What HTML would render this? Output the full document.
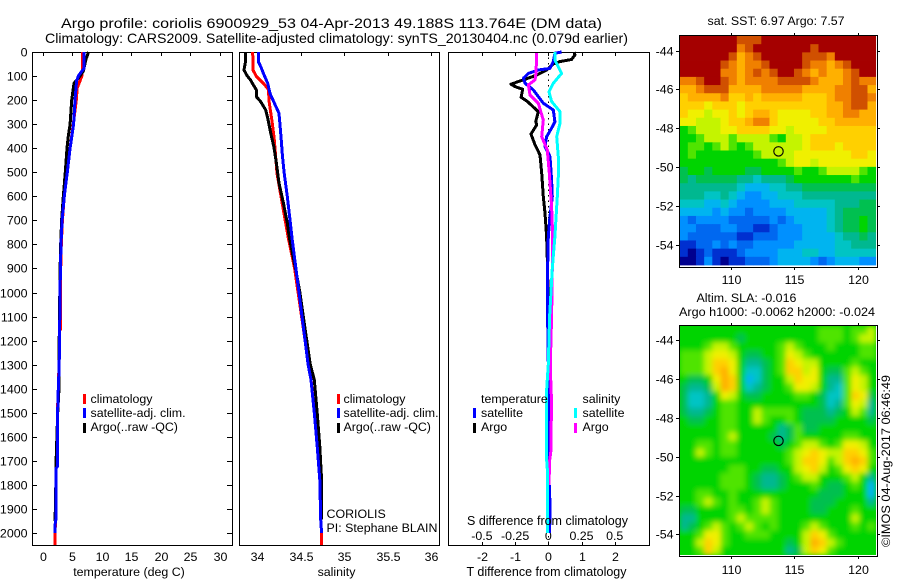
<!DOCTYPE html>
<html>
<head>
<meta charset="utf-8">
<title>Argo profile chart</title>
<style>
html,body{margin:0;padding:0;background:#fff;}
svg{display:block;}
text{font-family:"Liberation Sans",sans-serif;font-size:12.4px;fill:#000;}
</style>
</head>
<body>
<svg id="chart" xmlns="http://www.w3.org/2000/svg" width="900" height="580" viewBox="0 0 900 580">
  <defs>
    <clipPath id="clip-sla"><rect x="680" y="326" width="196" height="229"/></clipPath>
    <filter id="soft" x="-5%" y="-5%" width="110%" height="110%"><feGaussianBlur stdDeviation="2.6"/></filter>
  </defs>
  <g id="maps"></g>
  <g id="axes"></g>
  <g id="series"></g>

  <text x="61" y="28" style="font-size:14px" textLength="541" lengthAdjust="spacingAndGlyphs">Argo profile: coriolis 6900929_53 04-Apr-2013 49.188S 113.764E (DM data)</text>
  <text x="45" y="43" style="font-size:14px" textLength="583" lengthAdjust="spacingAndGlyphs">Climatology: CARS2009. Satellite-adjusted climatology: synTS_20130404.nc (0.079d earlier)</text>

  <text x="129" y="576" text-anchor="middle">temperature (deg C)</text>
  <text x="336.5" y="576" text-anchor="middle">salinity</text>
  <text x="546.5" y="576" text-anchor="middle" style="font-size:12.5px">T difference from climatology</text>
  <text x="547.5" y="525" text-anchor="middle" style="font-size:12.5px">S difference from climatology</text>

  <g>
    <rect x="83" y="394" width="3" height="10" fill="#f00"/>
    <rect x="83" y="408" width="3" height="10" fill="#00f"/>
    <rect x="83" y="423" width="3" height="10" fill="#000"/>
    <text x="90.5" y="403">climatology</text>
    <text x="90.5" y="417">satellite-adj. clim.</text>
    <text x="90.5" y="431">Argo(..raw -QC)</text>
  </g>
  <g>
    <rect x="337" y="394" width="3" height="10" fill="#f00"/>
    <rect x="337" y="408" width="3" height="10" fill="#00f"/>
    <rect x="337" y="423" width="3" height="10" fill="#000"/>
    <text x="343.5" y="403">climatology</text>
    <text x="343.5" y="417">satellite-adj. clim.</text>
    <text x="343.5" y="431">Argo(..raw -QC)</text>
  </g>
  <g>
    <text x="481" y="403">temperature</text>
    <text x="582.5" y="403">salinity</text>
    <rect x="473" y="408" width="3" height="10" fill="#00f"/>
    <rect x="473" y="423" width="3" height="10" fill="#000"/>
    <rect x="574" y="408" width="3" height="10" fill="#0ff"/>
    <rect x="574" y="423" width="3" height="10" fill="#f0f"/>
    <text x="481" y="417">satellite</text>
    <text x="481" y="431">Argo</text>
    <text x="582.5" y="417">satellite</text>
    <text x="582.5" y="431">Argo</text>
  </g>

  <text x="326.5" y="518">CORIOLIS</text>
  <text x="326.5" y="532">PI: Stephane BLAIN</text>

  <text x="707.5" y="25">sat. SST: 6.97 Argo: 7.57</text>
  <text x="696.5" y="302">Altim. SLA: -0.016</text>
  <text x="679" y="316" textLength="196" lengthAdjust="spacingAndGlyphs">Argo h1000: -0.0062 h2000: -0.024</text>
  <text transform="translate(890 547) rotate(-90)" textLength="172" lengthAdjust="spacingAndGlyphs">©IMOS 04-Aug-2017 06:46:49</text>
</svg>

<script>
// ---------- depth axis ----------
const depthTicks = [0,100,200,300,400,500,600,700,800,900,1000,1100,1200,1300,1400,1500,1600,1700,1800,1900,2000];

// ---------- temperature panel ----------
const tempTicks = [0,5,10,15,20,25,30];
const tempClimDepth = [0,60,100,150,200,300,400,500,600,700,800,900,1000,1150,1160,1300,1400,1500,1725,1730,1944,2000,2050];
const tempClimValue = [6.74,6.74,6.6,5.8,5.66,5.15,4.6,4.12,3.62,3.3,3.1,3.0,2.95,3.0,2.8,2.72,2.6,2.45,2.42,2.22,2.12,2.06,2.06];
const tempArgoDepth = [0,30,80,100,130,150,200,300,350,400,500,600,700,800,900,1000,1200,1400,1500,1700,1750,1900,1950];
const tempArgoValue = [7.75,7.3,6.85,6.3,5.26,5.15,4.87,4.6,4.3,4.08,3.79,3.45,3.15,3.0,2.9,2.85,2.75,2.72,2.5,2.22,2.2,2.1,2.0];
const tempSatDepth = [0,50,67,80,100,120,200,300,400,500,600,700,800,900,1000,1100,1200,1300,1400,1500,1600,1725,1730,1944,1950,2000];
const tempSatValue = [7.0,7.0,7.0,6.6,6.0,5.7,5.43,5.2,4.6,4.12,3.62,3.25,3.05,2.95,2.9,2.85,2.8,2.75,2.6,2.48,2.45,2.42,2.22,2.2,2.08,2.06];

// ---------- salinity panel ----------
const salTicks = [34,34.5,35,35.5,36];
const salClimDepth = [0,75,102,130,155,212,296,365,504,601,698,773,900,1000,1100,1200,1300,1363,1500,1640,1780,1944,2000,2050];
const salClimValue = [33.947,33.95,33.99,34.07,34.127,34.138,34.173,34.196,34.227,34.273,34.32,34.357,34.43,34.47,34.51,34.55,34.585,34.62,34.656,34.69,34.72,34.73,34.74,34.74];
const salArgoDepth = [0,45,75,96,116,158,186,207,241,275,337,393,462,545,628,711,773,900,1000,1100,1200,1300,1363,1500,1640,1780,1944];
const salArgoValue = [33.862,33.862,33.847,33.878,33.92,33.99,33.99,34.04,34.097,34.12,34.154,34.19,34.22,34.25,34.3,34.345,34.37,34.44,34.49,34.53,34.57,34.61,34.656,34.69,34.72,34.74,34.74];
const salSatDepth = [0,40,61,89,130,172,212,255,352,435,504,601,698,773,900,1000,1100,1200,1300,1363,1500,1640,1780,1944,2000];
const salSatValue = [34.012,34.012,34.04,34.07,34.12,34.146,34.196,34.25,34.273,34.29,34.31,34.345,34.377,34.4,34.445,34.48,34.515,34.55,34.585,34.618,34.656,34.69,34.72,34.73,34.74];

// ---------- difference panel ----------
const dTempTicks = [-2,-1,0,1,2];
const dSalTicks = [-0.5,-0.25,0,0.25,0.5];
const dTempArgoDepth = [0,12,31,40,50,75,96,116,134,144,155,188,206,248,290,303,341,386,428,504,601,670,767,900,1100,1300,1500,1700,1950];
const dTempArgoValue = [0.78,0.8,0.7,0.35,0.15,-0.05,-0.35,-0.75,-1.13,-1.0,-0.77,-0.82,-0.63,-0.3,-0.38,-0.35,-0.52,-0.4,-0.25,-0.2,-0.15,-0.1,-0.05,-0.02,0,0,0,0,0];
const dTempSatDepth = [0,5,40,68,75,89,109,130,158,213,241,290,317,352,393,435,533,601,684,767,900,1100,1300,1500,1700,1880,1950,2000];
const dTempSatValue = [0.4,0.2,0.15,0.05,-0.3,-0.6,-0.75,-0.7,-0.45,-0.15,0.15,0.2,0.1,-0.05,-0.1,0.05,0.1,0.12,0.05,0,-0.02,-0.02,0,0,0,0.05,0.05,0.03];
const dSalSatDepth = [0,33,89,130,165,206,248,296,352,435,518,601,767,900,1100,1300,1400,1700,1750,2000];
const dSalSatValue = [0.05,0.05,0.1,0.038,0.005,0.025,0.088,0.088,0.063,0.075,0.075,0.068,0.05,0.03,0.01,0,-0.012,-0.012,-0.005,-0.005];
const dSalArgoDepth = [5,89,116,137,179,213,283,352,407,504,643,767,900,1100,1300,1400,1450,1600,1650,1700,1800];
const dSalArgoValue = [-0.0875,-0.0925,-0.1,-0.15,-0.1375,-0.075,-0.0375,-0.05,-0.0075,0.0078,0.025,0.033,0.03,0.025,0.015,0.02,0.025,0.02,0.022,0.01,0.005];

// ---------- maps ----------
const mapLonTicks = [110,115,120];
const mapLatTicks = [-44,-46,-48,-50,-52,-54];
const argoLon = 113.764;
const argoLat = -49.188;
const sstLevels = [
[16,16,16,16,16,16,16,15,15,15,16,16,16,16,16,16,16,16,16,16,16,16,16,16],
[16,16,16,16,16,16,16,14,15,16,16,16,16,16,16,16,15,16,16,16,16,16,16,16],
[16,16,16,16,16,16,15,13,14,15,16,16,16,16,16,15,15,15,14,16,16,16,16,16],
[16,16,16,16,16,15,14,13,14,14,15,16,16,16,16,15,14,14,13,14,15,16,16,16],
[16,16,16,16,16,14,14,13,14,15,14,15,16,16,15,14,13,14,13,13,14,15,16,16],
[14,14,15,16,16,15,14,13,14,14,14,14,15,15,15,15,14,13,13,13,14,15,14,14],
[13,13,14,15,15,15,13,13,13,13,14,14,14,14,14,13,13,13,13,14,14,15,15,13],
[12,13,13,13,13,14,12,12,13,12,13,13,13,13,13,12,12,12,13,14,14,15,15,14],
[12,12,12,11,12,12,12,11,12,12,12,12,12,12,12,12,12,12,13,13,14,15,15,13],
[12,11,11,10,11,11,12,11,12,13,13,12,11,11,11,11,12,12,13,13,14,14,13,13],
[11,11,10,10,10,11,12,12,13,14,14,12,11,11,11,11,11,12,12,13,13,13,13,13],
[8,9,10,10,10,11,11,12,12,12,12,11,11,10,11,11,11,11,12,12,12,12,12,12],
[8,8,9,10,10,10,9,10,10,10,10,9,8,10,10,11,12,12,12,12,12,12,12,12],
[8,9,9,8,9,10,9,8,9,10,10,10,10,10,10,11,12,12,12,11,12,12,12,12],
[8,9,8,8,8,8,8,8,8,9,10,10,10,10,11,11,11,11,11,11,11,12,12,11],
[8,8,8,8,8,8,8,8,8,8,8,8,9,10,11,11,10,11,11,11,11,11,11,11],
[7,8,8,7,8,8,8,8,7,7,8,8,8,8,9,8,8,9,10,10,10,10,9,8],
[7,6,7,7,7,7,7,6,6,5,6,6,6,7,8,8,8,8,8,8,8,9,8,8],
[6,6,6,6,6,6,6,5,4,4,4,5,5,6,6,7,7,7,7,7,7,7,7,7],
[6,6,6,5,5,6,5,4,3,3,4,4,5,5,5,6,6,6,6,6,6,6,6,6],
[5,5,5,4,4,5,4,3,3,3,3,4,4,4,5,5,5,5,5,6,6,6,7,7],
[4,4,4,4,3,4,3,3,2,3,3,3,3,4,4,4,4,4,5,6,7,7,7,7],
[3,2,3,3,3,3,2,2,2,2,2,3,2,3,4,4,4,4,5,6,7,7,8,7],
[3,3,2,2,2,3,3,2,2,1,1,2,3,3,3,4,4,4,5,6,7,7,8,7],
[3,2,2,2,2,2,2,1,1,2,2,2,3,3,3,4,4,4,4,5,6,6,7,6],
[1,1,2,2,3,2,3,2,2,3,3,3,3,3,4,4,4,4,4,5,5,6,6,6],
[1,0,1,2,1,1,1,2,3,3,3,3,4,4,4,5,5,4,4,5,5,5,5,5],
[0,0,1,3,1,0,1,1,2,2,2,3,4,4,4,4,3,2,3,4,4,4,3,3]
];
const slaLevels = [
[8,8,8,8,8,8,8,8,8,8,8,8,8,8,8,8,8,9,9,9,8,9,9,10],
[8,8,8,8,8,8,8,7,8,8,8,8,8,8,8,8,8,9,9,9,8,9,10,10],
[8,8,8,9,10,10,9,8,8,8,8,8,9,10,9,8,8,8,9,8,8,8,9,9],
[9,9,9,10,11,11,10,8,7,7,8,8,9,11,10,9,8,8,8,8,8,8,9,9],
[9,9,9,10,12,12,11,8,6,6,7,8,9,12,11,10,10,8,8,8,8,9,8,8],
[9,9,9,10,12,13,11,8,5,5,7,8,9,12,12,10,11,8,7,7,9,10,9,8],
[8,7,7,8,11,13,12,8,4,5,7,8,8,10,12,11,11,8,6,6,9,11,10,8],
[7,6,6,7,10,13,12,8,5,6,7,8,8,9,11,11,10,8,6,5,9,11,10,8],
[7,5,5,6,8,11,10,8,7,7,8,8,8,8,9,9,8,7,5,5,9,12,11,7],
[7,5,5,6,8,9,9,8,8,8,8,8,8,8,8,8,8,7,5,6,9,11,10,6],
[7,6,6,7,8,9,9,8,8,10,9,9,9,9,8,7,7,7,6,7,8,10,9,6],
[8,7,7,8,8,9,9,8,8,10,9,8,8,9,8,7,7,7,7,8,8,8,8,7],
[8,8,8,8,8,9,9,8,8,8,8,8,6,7,9,7,7,8,8,8,8,8,8,8],
[8,8,8,8,8,9,10,8,8,8,8,7,6,7,9,8,8,8,8,8,9,9,8,8],
[8,8,9,9,8,9,9,8,8,8,8,8,7,8,9,10,10,9,8,9,11,11,10,8],
[8,8,10,9,8,9,9,8,8,8,8,8,8,9,10,11,12,11,10,10,12,12,11,9],
[8,8,8,8,8,8,8,8,8,8,8,8,8,9,10,12,12,11,9,10,12,13,12,9],
[8,8,8,8,8,8,9,9,8,8,7,7,8,8,10,11,12,10,8,9,11,12,11,8],
[8,8,8,8,8,9,9,9,8,7,6,6,7,8,9,10,10,8,8,8,9,10,8,6],
[8,8,8,8,8,9,9,9,8,7,6,6,7,8,8,8,9,8,7,7,8,9,8,4],
[8,8,9,9,8,8,9,8,8,8,8,8,8,8,8,8,8,7,7,7,8,8,8,4],
[8,8,9,10,9,8,9,8,8,9,10,9,8,8,8,8,7,7,7,8,8,8,8,6],
[7,7,8,8,8,8,9,9,8,9,10,9,8,8,8,8,7,7,8,8,8,9,8,8],
[6,6,8,8,8,8,9,10,9,9,9,9,8,8,8,8,8,8,8,8,8,10,8,8],
[6,7,8,9,10,9,8,9,10,9,8,9,8,8,8,9,10,9,8,8,8,9,8,9],
[8,8,9,11,11,9,8,8,9,9,9,8,8,8,8,10,12,11,9,8,8,8,8,8],
[8,8,10,12,11,9,8,8,8,8,8,8,8,7,8,10,13,12,10,9,8,8,8,8],
[8,8,9,12,10,8,8,8,8,8,8,8,8,6,7,10,12,11,9,8,8,8,8,8]
];
const levelColors = ['#00008f','#0030d0','#0068f0','#0090ff','#00b4f0','#00c4c4','#00b890','#00c050','#00d400','#50e400','#c4f400','#f0f000','#ffd000','#ffb000','#f08000','#d05000','#a50000'];

// ---------- scales ----------
const NS = 'http://www.w3.org/2000/svg';
const axesG = document.getElementById('axes');
const seriesG = document.getElementById('series');
const mapsG = document.getElementById('maps');
const latPx = 19.44;
const yDepth = d => 52 + d * 0.2405;
const xTemp = v => 43 + v * 5.89;
const xSal = v => 257.3 + (v - 34) * 86.85;
const xDT = v => 548.3 + v * 33.2;
const xDS = v => 548.3 + v * 132.8;
const xLon = v => 730.7 + (v - 110) * 12.7;
const ySstLat = v => 50.5 + (-44 - v) * latPx;
const ySlaLat = v => 340 + (-44 - v) * latPx;

function mk(tag, attrs, parent) {
  const e = document.createElementNS(NS, tag);
  for (const k in attrs) e.setAttribute(k, attrs[k]);
  parent.appendChild(e);
  return e;
}
function tickMark(x1, y1, x2, y2) {
  const el = mk('line', {x1, y1, x2, y2, stroke:'#000', 'stroke-width':1, 'shape-rendering':'crispEdges'}, axesG);
  
  
}
function tickLabel(x, y, str, anchor) {
  const el = mk('text', {x, y, 'text-anchor':anchor}, axesG);
  el.textContent = str;
  
  
}
function frame(x, y, w, h, name) {
  const el = mk('rect', {x:x+0.5, y:y+0.5, width:w, height:h, fill:'none', stroke:'#000', 'stroke-width':1.2, 'shape-rendering':'crispEdges'}, axesG);
  
  
}
function profile(depths, values, xScale, color, name, width) {
  const pts = depths.map((d, i) => xScale(values[i]).toFixed(1) + ',' + yDepth(d).toFixed(1)).join(' ');
  const el = mk('polyline', {points:pts, fill:'none', stroke:color, 'stroke-width':width, 'stroke-linejoin':'round', 'shape-rendering':'crispEdges'}, seriesG);
  
  
}

// ---------- profile panels ----------
const P1 = {l:32, r:232, t:52, b:545};
const P2 = {l:239, r:439, t:52, b:545};
const P3 = {l:448, r:649, t:52, b:545};
frame(P1.l, P1.t, P1.r-P1.l, P1.b-P1.t, 'temperature-panel-frame');
frame(P2.l, P2.t, P2.r-P2.l, P2.b-P2.t, 'salinity-panel-frame');
frame(P3.l, P3.t, P3.r-P3.l, P3.b-P3.t, 'difference-panel-frame');

depthTicks.forEach(d => {
  const y = Math.round(yDepth(d)) + 0.5;
  tickMark(P1.l, y, P1.l + 5, y);
  tickMark(P1.r - 5, y, P1.r, y);
  tickLabel(27.5, y + 4, String(d), 'end');
});
tempTicks.forEach(v => {
  const x = Math.round(xTemp(v)) + 0.5;
  tickMark(x, P1.t, x, P1.t + 4);
  tickLabel(x, 561, String(v), 'middle');
});
salTicks.forEach(v => {
  const x = Math.round(xSal(v)) + 0.5;
  tickMark(x, P2.t, x, P2.t + 4);
  tickLabel(x, 561, String(v), 'middle');
});
dTempTicks.forEach(v => {
  const x = Math.round(xDT(v)) + 0.5;
  tickMark(x, P3.t, x, P3.t + 4);
  tickMark(x, P3.b - 3, x, P3.b);
  tickLabel(x, 561, String(v), 'middle');
});
dSalTicks.forEach(v => {
  tickLabel(xDS(v), 540, String(v), 'middle');
});

const zero = mk('line', {x1:xDT(0), y1:P3.t, x2:xDT(0), y2:P3.b, stroke:'#000', 'stroke-width':1, 'stroke-dasharray':'1.5 4', 'shape-rendering':'crispEdges'}, seriesG);



profile(tempClimDepth, tempClimValue, xTemp, '#f00', 'temperature-climatology-line', 3);
profile(tempArgoDepth, tempArgoValue, xTemp, '#000', 'temperature-argo-line', 3);
profile(tempSatDepth, tempSatValue, xTemp, '#00f', 'temperature-satellite-line', 3);
profile(salClimDepth, salClimValue, xSal, '#f00', 'salinity-climatology-line', 3);
profile(salArgoDepth, salArgoValue, xSal, '#000', 'salinity-argo-line', 3);
profile(salSatDepth, salSatValue, xSal, '#00f', 'salinity-satellite-line', 3);
profile(dTempArgoDepth, dTempArgoValue, xDT, '#000', 'temperature-difference-argo-line', 3);
profile(dTempSatDepth, dTempSatValue, xDT, '#00f', 'temperature-difference-satellite-line', 3);
profile(dSalArgoDepth, dSalArgoValue, xDS, '#f0f', 'salinity-difference-argo-line', 3);
profile(dSalSatDepth, dSalSatValue, xDS, '#0ff', 'salinity-difference-satellite-line', 3);

// ---------- maps ----------
function drawMap(levels, yLat, top, bottom, parent, cellName) {
  const west = 105.98, lonStep = 196 / 24 / 12.7;
  const rows = levels.length;
  const topLat = -44 + (yLat(-44) - top) / latPx;
  const latStep = (bottom - top) / rows / latPx;
  levels.forEach((row, r) => {
    row.forEach((lvl, c) => {
      const x0 = xLon(west + c * lonStep), x1 = xLon(west + (c + 1) * lonStep);
      const y0 = yLat(topLat - r * latStep), y1 = yLat(topLat - (r + 1) * latStep);
      const el = mk('rect', {x:x0.toFixed(2), y:y0.toFixed(2), width:(x1-x0+0.4).toFixed(2), height:(y1-y0+0.4).toFixed(2), fill:levelColors[lvl]}, parent);
      
      
    });
  });
}
function mapAxes(top, bottom, yLat, labelY, name) {
  frame(679, top, 198, bottom - top, name);
  mapLonTicks.forEach(v => {
    const x = Math.round(xLon(v)) + 0.5;
    tickMark(x, top - 2, x, top);
    tickMark(x, bottom + 1, x, bottom + 3);
    tickLabel(x, labelY, String(v), 'middle');
  });
  mapLatTicks.forEach(v => {
    const y = Math.round(yLat(v)) + 0.5;
    tickMark(676, y, 679, y);
    tickMark(878, y, 880, y);
    tickLabel(673.5, y + 4, String(v), 'end');
  });
}
function argoMarker(y, name) {
  const el = mk('circle', {cx:xLon(argoLon), cy:y, r:4.7, fill:'none', stroke:'#000', 'stroke-width':1.1}, mapsG);
  
  
}

const sstGroup = mk('g', {}, mapsG);


drawMap(sstLevels, ySstLat, 36, 265, sstGroup, 'sst-cell');

const slaClip = mk('g', {'clip-path':'url(#clip-sla)'}, mapsG);


const slaBack = mk('rect', {x:680, y:326, width:196, height:229, fill:levelColors[8]}, slaClip);


const slaGroup = mk('g', {filter:'url(#soft)'}, slaClip);


drawMap(slaLevels, ySlaLat, 326, 555, slaGroup, 'sla-cell');

argoMarker(ySstLat(argoLat), 'sst-argo-location-marker');
argoMarker(ySlaLat(argoLat), 'sla-argo-location-marker');
mapAxes(35, 267, ySstLat, 284, 'sst-map-frame');
mapAxes(325, 556, ySlaLat, 574, 'sla-map-frame');
</script>
</body>
</html>
